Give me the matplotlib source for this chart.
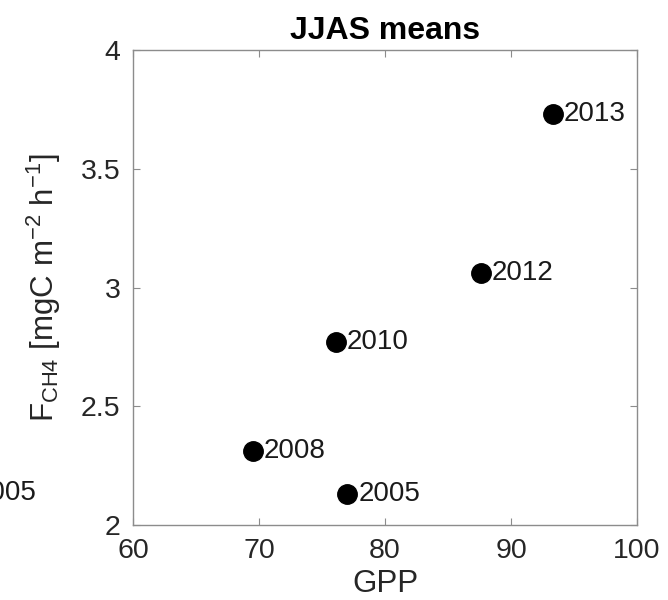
import matplotlib
matplotlib.use("Agg")
import matplotlib.pyplot as plt

plt.rcParams['font.family'] = ['Liberation Sans', 'DejaVu Sans']
plt.rcParams['mathtext.fontset'] = 'custom'
plt.rcParams['mathtext.rm'] = 'Liberation Sans'
plt.rcParams['mathtext.it'] = 'Liberation Sans:italic'

# JJAS mean GPP vs methane flux, one point per year
years = ['2005', '2008', '2010', '2012', '2013']
gpp = [77.0, 69.5, 76.1, 87.6, 93.3]
fch4 = [2.13, 2.31, 2.77, 3.06, 3.73]

fig = plt.figure(figsize=(6.68, 6.0), dpi=100)
ax = fig.add_axes([133 / 668, 1 - 525 / 600, 504 / 668, 475 / 600])

ax.plot(gpp, fch4, 'o', color='black', markersize=14, linestyle='none')
for x, y, yr in zip(gpp, fch4, years):
    ax.annotate(yr, (x, y), xytext=(8, 0), textcoords='offset points',
                va='center', ha='left', fontsize=20, color='#1a1a1a')

ax.set_xlim(60, 100)
ax.set_ylim(2, 4)
ax.set_xticks([60, 70, 80, 90, 100])
ax.set_yticks([2, 2.5, 3, 3.5, 4])
ax.set_yticklabels(['2', '2.5', '3', '3.5', '4'])

for s in ax.spines.values():
    s.set_color('#8c8c8c')
    s.set_linewidth(1.0)
ax.tick_params(direction='in', length=5, width=0.8, color='#8c8c8c',
               labelsize=20.5, labelcolor='#262626', top=True, right=True, pad=9)

ax.set_xlabel('GPP', fontsize=22.5, color='#262626', labelpad=4)
ax.set_ylabel(r'F$_{\mathrm{CH4}}$ [mgC m$^{-2}$ h$^{-1}$]', fontsize=22.5,
              color='#262626', labelpad=13)
ax.set_title('JJAS means', fontsize=23, fontweight='bold', pad=8)

# label of the neighbouring panel, cut by the figure edge
fig.text(37 / 668, 1 - 493 / 600, '2005', ha='right', va='center',
         fontsize=20, color='#1a1a1a')

fig.savefig('out.png', dpi=100)
